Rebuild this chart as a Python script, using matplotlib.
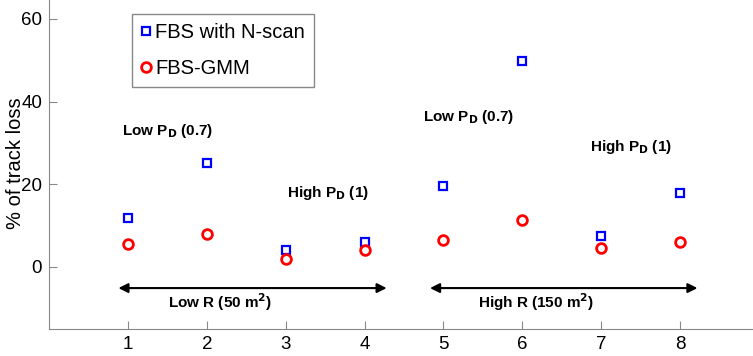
import matplotlib
matplotlib.use("Agg")
import matplotlib.pyplot as plt

plt.rcParams['font.family'] = ['Liberation Sans', 'DejaVu Sans']

x = [1, 2, 3, 4, 5, 6, 7, 8]
fbs_nscan = [11.9, 25.2, 4.1, 6.0, 19.6, 49.8, 7.5, 18.0]
fbs_gmm = [5.5, 7.9, 1.9, 4.2, 6.5, 11.3, 4.6, 6.1]
xticks = [1, 2, 3, 4, 5, 6, 7, 8]
yticks = [0, 20, 40, 60]

W, H = 753, 356
fig = plt.figure(figsize=(W / 100, H / 100), dpi=100)
left, right, top, bottom = 49, 759, -1.7, 329
ax = fig.add_axes([left / W, 1 - bottom / H, (right - left) / W, (bottom - top) / H])

ax.plot(x, fbs_nscan, linestyle='none', marker='s', markersize=6, markerfacecolor='none',
        markeredgecolor='#0000ff', markeredgewidth=1.6, label='FBS with N-scan')
ax.plot(x, fbs_gmm, linestyle='none', marker='o', markersize=7, markerfacecolor='none',
        markeredgecolor='#ff0000', markeredgewidth=2, label='FBS-GMM')

ax.set_xlim(0, 9)
ax.set_ylim(-15, 65)
ax.set_xticks(xticks)
ax.set_yticks(yticks)
ax.tick_params(direction='in', length=6, color='#888888', labelsize=13.5, pad=5)
for s in ['top', 'right']:
    ax.spines[s].set_visible(False)
for s in ['left', 'bottom']:
    ax.spines[s].set_color('#888888')
ax.set_ylabel('% of track loss', fontsize=14.5)
ax.yaxis.set_label_coords((25 - left) / (right - left), 0.5)

leg = ax.legend(loc='upper left', bbox_to_anchor=(0.117, 0.953), borderaxespad=0,
                fontsize=14.5, handlelength=0.45, handletextpad=0.25, labelspacing=0.85,
                fancybox=False, edgecolor='#888888', framealpha=1, borderpad=0.45)
leg.get_frame().set_linewidth(1)

kw = dict(fontsize=11, fontweight='bold', va='center', ha='left')
ax.text(0.92, 33, r'Low P$_\mathbf{D}$ (0.7)', **kw)
ax.text(3.02, 17.9, r'High P$_\mathbf{D}$ (1)', **kw)
ax.text(4.74, 36.3, r'Low P$_\mathbf{D}$ (0.7)', **kw)
ax.text(6.86, 29, r'High P$_\mathbf{D}$ (1)', **kw)

arrowprops = dict(arrowstyle='<|-|>', color='black', lw=1.5, mutation_scale=14, shrinkA=0, shrinkB=0)
ax.annotate('', xy=(4.28, -5.1), xytext=(0.88, -5.1), arrowprops=arrowprops)
ax.annotate('', xy=(8.22, -5.1), xytext=(4.83, -5.1), arrowprops=arrowprops)
ax.text(1.51, -8.6, r'Low R (50 m$^\mathbf{2}$)', **kw)
ax.text(5.44, -8.6, r'High R (150 m$^\mathbf{2}$)', **kw)

fig.savefig('out.png', dpi=100)
